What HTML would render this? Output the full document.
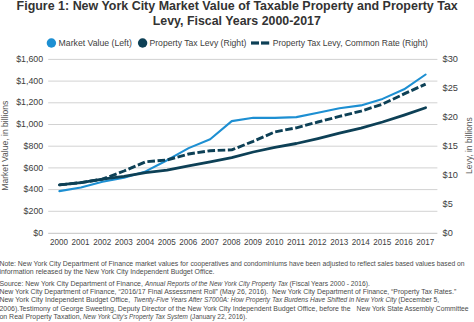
<!DOCTYPE html>
<html><head><meta charset="utf-8"><style>
html,body{margin:0;padding:0;background:#fff;width:474px;height:322px;overflow:hidden}
svg{display:block;font-family:"Liberation Sans",sans-serif}
</style></head><body>
<svg width="474" height="322" viewBox="0 0 474 322"><rect width="474" height="322" fill="#fff"/><text x="16.6" y="9.5" font-size="13.5" fill="#333" textLength="441.2" lengthAdjust="spacingAndGlyphs" font-weight="bold">Figure 1: New York City Market Value of Taxable Property and Property Tax</text><text x="152.8" y="25.0" font-size="13.5" fill="#333" textLength="168.0" lengthAdjust="spacingAndGlyphs" font-weight="bold">Levy, Fiscal Years 2000-2017</text><circle cx="51.4" cy="43.0" r="4.7" fill="#1d8fd2"/><text x="58.6" y="45.8" font-size="8.2" fill="#404040" textLength="73.2" lengthAdjust="spacingAndGlyphs">Market Value (Left)</text><circle cx="142.6" cy="43.0" r="4.7" fill="#0d4056"/><text x="149.5" y="45.8" font-size="8.2" fill="#404040" textLength="96.9" lengthAdjust="spacingAndGlyphs">Property Tax Levy (Right)</text><rect x="251" y="41.4" width="8" height="3.2" fill="#0d4056"/><rect x="261" y="41.4" width="8.2" height="3.2" fill="#0d4056"/><text x="272.8" y="45.8" font-size="8.2" fill="#404040" textLength="155" lengthAdjust="spacingAndGlyphs">Property Tax Levy, Common Rate (Right)</text><line x1="48.2" y1="59.40" x2="437.4" y2="59.40" stroke="#d2d2d2" stroke-width="1"/><line x1="48.2" y1="81.10" x2="437.4" y2="81.10" stroke="#d2d2d2" stroke-width="1"/><line x1="48.2" y1="102.80" x2="437.4" y2="102.80" stroke="#d2d2d2" stroke-width="1"/><line x1="48.2" y1="124.50" x2="437.4" y2="124.50" stroke="#d2d2d2" stroke-width="1"/><line x1="48.2" y1="146.20" x2="437.4" y2="146.20" stroke="#d2d2d2" stroke-width="1"/><line x1="48.2" y1="167.90" x2="437.4" y2="167.90" stroke="#d2d2d2" stroke-width="1"/><line x1="48.2" y1="189.60" x2="437.4" y2="189.60" stroke="#d2d2d2" stroke-width="1"/><line x1="48.2" y1="211.30" x2="437.4" y2="211.30" stroke="#d2d2d2" stroke-width="1"/><line x1="48.2" y1="233.30" x2="437.4" y2="233.30" stroke="#c4c4c4" stroke-width="1"/><text x="43.2" y="62.00" font-size="8.4" fill="#404040" text-anchor="end" textLength="27.0" lengthAdjust="spacingAndGlyphs">$1,600</text><text x="43.2" y="83.70" font-size="8.4" fill="#404040" text-anchor="end" textLength="27.0" lengthAdjust="spacingAndGlyphs">$1,400</text><text x="43.2" y="105.40" font-size="8.4" fill="#404040" text-anchor="end" textLength="27.0" lengthAdjust="spacingAndGlyphs">$1,200</text><text x="43.2" y="127.10" font-size="8.4" fill="#404040" text-anchor="end" textLength="27.0" lengthAdjust="spacingAndGlyphs">$1,000</text><text x="43.2" y="148.80" font-size="8.4" fill="#404040" text-anchor="end" textLength="19.6" lengthAdjust="spacingAndGlyphs">$800</text><text x="43.2" y="170.50" font-size="8.4" fill="#404040" text-anchor="end" textLength="19.6" lengthAdjust="spacingAndGlyphs">$600</text><text x="43.2" y="192.20" font-size="8.4" fill="#404040" text-anchor="end" textLength="19.6" lengthAdjust="spacingAndGlyphs">$400</text><text x="43.2" y="213.90" font-size="8.4" fill="#404040" text-anchor="end" textLength="19.6" lengthAdjust="spacingAndGlyphs">$200</text><text x="43.2" y="235.60" font-size="8.4" fill="#404040" text-anchor="end" textLength="9.9" lengthAdjust="spacingAndGlyphs">$0</text><text x="442.6" y="62.00" font-size="8.4" fill="#404040" textLength="15.4" lengthAdjust="spacingAndGlyphs">$30</text><text x="442.6" y="90.93" font-size="8.4" fill="#404040" textLength="15.4" lengthAdjust="spacingAndGlyphs">$25</text><text x="442.6" y="119.87" font-size="8.4" fill="#404040" textLength="15.4" lengthAdjust="spacingAndGlyphs">$20</text><text x="442.6" y="148.80" font-size="8.4" fill="#404040" textLength="15.4" lengthAdjust="spacingAndGlyphs">$15</text><text x="442.6" y="177.73" font-size="8.4" fill="#404040" textLength="15.4" lengthAdjust="spacingAndGlyphs">$10</text><text x="442.6" y="206.67" font-size="8.4" fill="#404040" textLength="10.2" lengthAdjust="spacingAndGlyphs">$5</text><text x="442.6" y="235.60" font-size="8.4" fill="#404040" textLength="10.2" lengthAdjust="spacingAndGlyphs">$0</text><text x="59.07" y="244.9" font-size="8.4" fill="#404040" text-anchor="middle" textLength="18.0" lengthAdjust="spacingAndGlyphs">2000</text><text x="80.62" y="244.9" font-size="8.4" fill="#404040" text-anchor="middle" textLength="18.0" lengthAdjust="spacingAndGlyphs">2001</text><text x="102.16" y="244.9" font-size="8.4" fill="#404040" text-anchor="middle" textLength="18.0" lengthAdjust="spacingAndGlyphs">2002</text><text x="123.71" y="244.9" font-size="8.4" fill="#404040" text-anchor="middle" textLength="18.0" lengthAdjust="spacingAndGlyphs">2003</text><text x="145.25" y="244.9" font-size="8.4" fill="#404040" text-anchor="middle" textLength="18.0" lengthAdjust="spacingAndGlyphs">2004</text><text x="166.79" y="244.9" font-size="8.4" fill="#404040" text-anchor="middle" textLength="18.0" lengthAdjust="spacingAndGlyphs">2005</text><text x="188.34" y="244.9" font-size="8.4" fill="#404040" text-anchor="middle" textLength="18.0" lengthAdjust="spacingAndGlyphs">2006</text><text x="209.88" y="244.9" font-size="8.4" fill="#404040" text-anchor="middle" textLength="18.0" lengthAdjust="spacingAndGlyphs">2007</text><text x="231.43" y="244.9" font-size="8.4" fill="#404040" text-anchor="middle" textLength="18.0" lengthAdjust="spacingAndGlyphs">2008</text><text x="252.97" y="244.9" font-size="8.4" fill="#404040" text-anchor="middle" textLength="18.0" lengthAdjust="spacingAndGlyphs">2009</text><text x="274.52" y="244.9" font-size="8.4" fill="#404040" text-anchor="middle" textLength="18.0" lengthAdjust="spacingAndGlyphs">2010</text><text x="296.06" y="244.9" font-size="8.4" fill="#404040" text-anchor="middle" textLength="18.0" lengthAdjust="spacingAndGlyphs">2011</text><text x="317.61" y="244.9" font-size="8.4" fill="#404040" text-anchor="middle" textLength="18.0" lengthAdjust="spacingAndGlyphs">2012</text><text x="339.15" y="244.9" font-size="8.4" fill="#404040" text-anchor="middle" textLength="18.0" lengthAdjust="spacingAndGlyphs">2013</text><text x="360.69" y="244.9" font-size="8.4" fill="#404040" text-anchor="middle" textLength="18.0" lengthAdjust="spacingAndGlyphs">2014</text><text x="382.24" y="244.9" font-size="8.4" fill="#404040" text-anchor="middle" textLength="18.0" lengthAdjust="spacingAndGlyphs">2015</text><text x="403.78" y="244.9" font-size="8.4" fill="#404040" text-anchor="middle" textLength="18.0" lengthAdjust="spacingAndGlyphs">2016</text><text x="425.33" y="244.9" font-size="8.4" fill="#404040" text-anchor="middle" textLength="18.0" lengthAdjust="spacingAndGlyphs">2017</text><text transform="translate(7.7,145.7) rotate(-90)" font-size="8.4" fill="#555" text-anchor="middle" textLength="90.0" lengthAdjust="spacingAndGlyphs">Market Value, in billions</text><text transform="translate(472.4,145.6) rotate(-90)" font-size="8.6" fill="#555" text-anchor="middle" textLength="56.8" lengthAdjust="spacingAndGlyphs">Levy, in billions</text><polyline points="59.37,191.10 80.92,187.50 102.46,181.80 124.01,177.70 145.55,171.40 167.09,160.20 188.64,148.10 210.18,139.20 231.73,121.10 253.27,117.70 274.82,117.90 296.36,117.10 317.91,112.70 339.45,108.30 360.99,105.40 382.54,98.90 404.08,89.30 425.63,74.50" fill="none" stroke="#1d8fd2" stroke-width="2.1" stroke-linejoin="round" stroke-linecap="round"/><polyline points="59.37,184.90 80.92,182.60 102.46,179.20 124.01,176.40 145.55,172.70 167.09,170.10 188.64,165.90 210.18,161.80 231.73,157.60 253.27,152.00 274.82,147.40 296.36,143.50 317.91,138.60 339.45,133.20 360.99,128.20 382.54,122.00 404.08,115.10 425.63,107.70" fill="none" stroke="#0d4056" stroke-width="2.8" stroke-linejoin="round" stroke-linecap="round"/><polyline points="59.37,184.90 80.92,182.60 102.46,179.20 124.01,171.00 145.55,161.80 167.09,159.90 188.64,154.00 210.18,150.70 231.73,149.90 253.27,141.30 274.82,131.90 296.36,127.80 317.91,122.00 339.45,116.40 360.99,111.10 382.54,104.10 404.08,93.90 425.63,84.10" fill="none" stroke="#0d4056" stroke-width="2.9" stroke-dasharray="7.6 2.6" stroke-linejoin="round"/><text x="-0.6" y="265.6" font-size="7.0" fill="#4a4a4a" textLength="188.8" lengthAdjust="spacingAndGlyphs" style="white-space:pre">Note: New York City Department of Finance market values for</text><text x="190.4" y="265.6" font-size="7.0" fill="#4a4a4a" textLength="274.2" lengthAdjust="spacingAndGlyphs" style="white-space:pre">cooperatives and condominiums have been adjusted to reflect sales based values based on</text><text x="-0.6" y="273.8" font-size="7.0" fill="#4a4a4a" textLength="215.1" lengthAdjust="spacingAndGlyphs" style="white-space:pre">information released by the New York City Independent Budget Office.</text><text x="-0.6" y="285.6" font-size="7.0" fill="#4a4a4a" textLength="143.5" lengthAdjust="spacingAndGlyphs" style="white-space:pre">Source: New York City Department of Finance,</text><text x="145.0" y="285.6" font-size="7.0" fill="#4a4a4a" font-style="italic" textLength="142.8" lengthAdjust="spacingAndGlyphs" style="white-space:pre">Annual Reports of the New York City Property Tax</text><text x="289.6" y="285.6" font-size="7.0" fill="#4a4a4a" textLength="80.3" lengthAdjust="spacingAndGlyphs" style="white-space:pre">(Fiscal Years 2000 - 2016).</text><text x="-0.6" y="294.0" font-size="7.0" fill="#4a4a4a" textLength="268.8" lengthAdjust="spacingAndGlyphs" style="white-space:pre">New York City Department of Finance, &#8220;2016/17 Final Assessment Roll&#8221; (May 26, 2016).</text><text x="272.1" y="294.0" font-size="7.0" fill="#4a4a4a" textLength="184.1" lengthAdjust="spacingAndGlyphs" style="white-space:pre">New York City Department of Finance, &#8220;Property Tax Rates.&#8221;</text><text x="-0.6" y="302.3" font-size="7.0" fill="#4a4a4a" textLength="130.8" lengthAdjust="spacingAndGlyphs" style="white-space:pre">New York City Independent Budget Office,</text><text x="133.6" y="302.3" font-size="7.0" fill="#4a4a4a" font-style="italic" textLength="263.0" lengthAdjust="spacingAndGlyphs" style="white-space:pre">Twenty-Five Years After S7000A: How Property Tax Burdens Have Shifted in New York City</text><text x="398.2" y="302.3" font-size="7.0" fill="#4a4a4a" textLength="41.0" lengthAdjust="spacingAndGlyphs" style="white-space:pre">(December 5,</text><text x="-0.6" y="310.6" font-size="7.0" fill="#4a4a4a" textLength="351.2" lengthAdjust="spacingAndGlyphs" style="white-space:pre">2006).Testimony of George Sweeting, Deputy Director of the New York City Independent Budget Office, before the</text><text x="356.6" y="310.6" font-size="7.0" fill="#4a4a4a" textLength="112.0" lengthAdjust="spacingAndGlyphs" style="white-space:pre">New York State Assembly Committee</text><text x="-0.6" y="318.8" font-size="7.0" fill="#4a4a4a" textLength="82.1" lengthAdjust="spacingAndGlyphs" style="white-space:pre">on Real Property Taxation,</text><text x="83.0" y="318.8" font-size="7.0" fill="#4a4a4a" font-style="italic" textLength="104.9" lengthAdjust="spacingAndGlyphs" style="white-space:pre">New York City&#8217;s Property Tax System</text><text x="189.9" y="318.8" font-size="7.0" fill="#4a4a4a" textLength="57.1" lengthAdjust="spacingAndGlyphs" style="white-space:pre">(January 22, 2016).</text></svg>
</body></html>
